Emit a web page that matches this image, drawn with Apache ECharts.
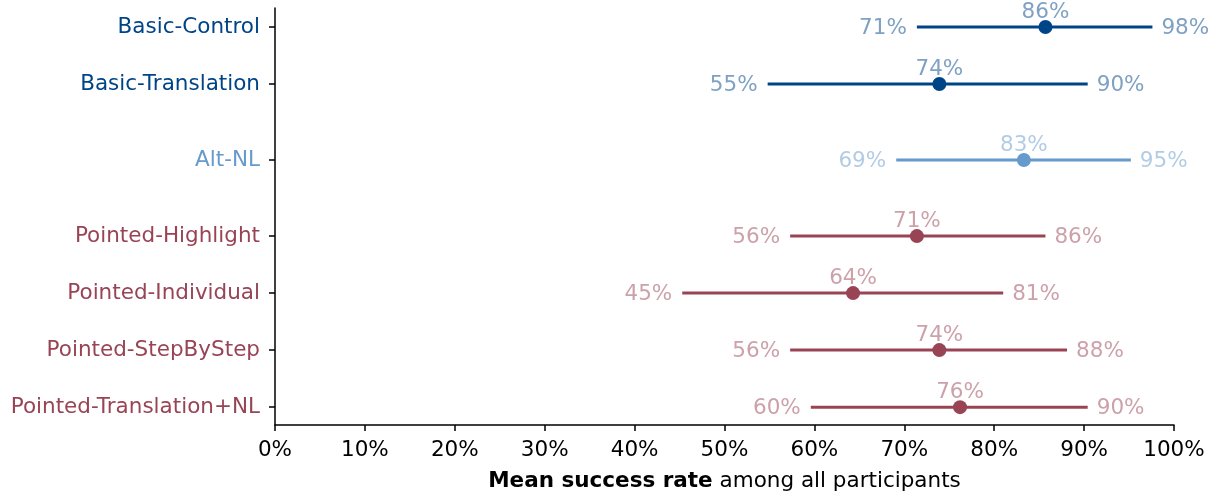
<!DOCTYPE html>
<html>
<head>
<meta charset="utf-8">
<script src="https://cdn.jsdelivr.net/npm/echarts@6/dist/echarts.min.js"></script>
<style>
  html, body { margin: 0; padding: 0; background: #fff; }
  #chart { width: 1217px; height: 493px; }
</style>
</head>
<body>
<div id="chart"></div>
<script>
// conditions, top to bottom
const conditions = ['Basic-Control', 'Basic-Translation', 'Alt-NL', 'Pointed-Highlight',
  'Pointed-Individual', 'Pointed-StepByStep', 'Pointed-Translation+NL'];
// vertical slot of each row (groups separated by a wider gap)
const rowPos = [0, 1, 7 / 3, 11 / 3, 14 / 3, 17 / 3, 20 / 3];
const groups = ['basic', 'basic', 'alt', 'pointed', 'pointed', 'pointed', 'pointed'];

// mean success rate and interval ends (%)
const lows = [71.4, 54.8, 69.1, 57.3, 45.3, 57.3, 59.6];
const means = [85.7, 73.9, 83.3, 71.4, 64.3, 73.9, 76.2];
const highs = [97.6, 90.4, 95.2, 85.7, 81.0, 88.1, 90.4];
const lowLabels = ['71%', '55%', '69%', '56%', '45%', '56%', '60%'];
const meanLabels = ['86%', '74%', '83%', '71%', '64%', '74%', '76%'];
const highLabels = ['98%', '90%', '95%', '86%', '81%', '88%', '90%'];

const colors = { basic: '#004488', alt: '#6699cc', pointed: '#994455' };
const faded = { basic: '#7fa1c3', alt: '#b2cce5', pointed: '#cca1aa' };
const FONT = 'DejaVu Sans';
const FS = 21.5;

const chart = echarts.init(document.getElementById('chart'));

const data = conditions.map((c, i) => [lows[i], means[i], highs[i], rowPos[i], i]);

function renderItem(params, api) {
  const i = api.value(4);
  const g = groups[i];
  const p0 = api.coord([api.value(0), api.value(3)]);
  const pm = api.coord([api.value(1), api.value(3)]);
  const p1 = api.coord([api.value(2), api.value(3)]);
  const txt = (x, y, s, align, va) => ({
    type: 'text',
    style: { x: x, y: y, text: s, fill: faded[g], font: FS + 'px "' + FONT + '"', align: align, verticalAlign: va }
  });
  return {
    type: 'group',
    children: [
      { type: 'line', shape: { x1: p0[0], y1: p0[1], x2: p1[0], y2: p1[1] },
        style: { stroke: colors[g], lineWidth: 3 } },
      { type: 'circle', shape: { cx: pm[0], cy: pm[1], r: 7 }, style: { fill: colors[g] } },
      txt(p0[0] - 10, p0[1] + 1, lowLabels[i], 'right', 'middle'),
      txt(p1[0] + 9, p1[1] + 1, highLabels[i], 'left', 'middle'),
      txt(pm[0], pm[1] - 4, meanLabels[i], 'center', 'bottom')
    ]
  };
}

const rich = {};
Object.keys(colors).forEach(k => {
  rich[k] = { color: colors[k], fontFamily: FONT, fontSize: FS };
});

chart.setOption({
  animation: false,
  textStyle: { fontFamily: FONT },
  grid: { left: 275, right: 43, top: 8, bottom: 68, containLabel: false, outerBoundsMode: 'none' },
  xAxis: {
    type: 'value', min: 0, max: 100, interval: 10,
    axisLine: { show: true, onZero: false, lineStyle: { color: '#000', width: 1.5 } },
    axisTick: { show: true, length: 6, lineStyle: { color: '#000', width: 1.5 } },
    axisLabel: { formatter: '{value}%', color: '#000', fontSize: FS, fontFamily: FONT, margin: 14 },
    splitLine: { show: false },
    name: '{b|Mean success rate} among all participants',
    nameLocation: 'middle',
    nameGap: 45,
    nameTextStyle: {
      color: '#000', fontSize: FS, fontFamily: FONT,
      rich: { b: { fontWeight: 'bold', fontSize: FS, fontFamily: FONT, color: '#000' } }
    }
  },
  yAxis: {
    type: 'value', inverse: true, min: -1 / 3, max: 6.98,
    axisLine: { show: true, onZero: false, lineStyle: { color: '#000', width: 1.5 } },
    axisTick: { show: true, length: 6, customValues: rowPos, lineStyle: { color: '#000', width: 1.5 } },
    axisLabel: {
      customValues: rowPos,
      margin: 15,
      formatter: v => {
        let best = 0;
        rowPos.forEach((p, i) => { if (Math.abs(p - v) < Math.abs(rowPos[best] - v)) best = i; });
        return '{' + groups[best] + '|' + conditions[best] + '}';
      },
      rich: rich
    },
    splitLine: { show: false }
  },
  series: [{
    type: 'custom',
    renderItem: renderItem,
    encode: { x: [0, 1, 2], y: 3 },
    data: data,
    clip: false
  }]
});
</script>
</body>
</html>
